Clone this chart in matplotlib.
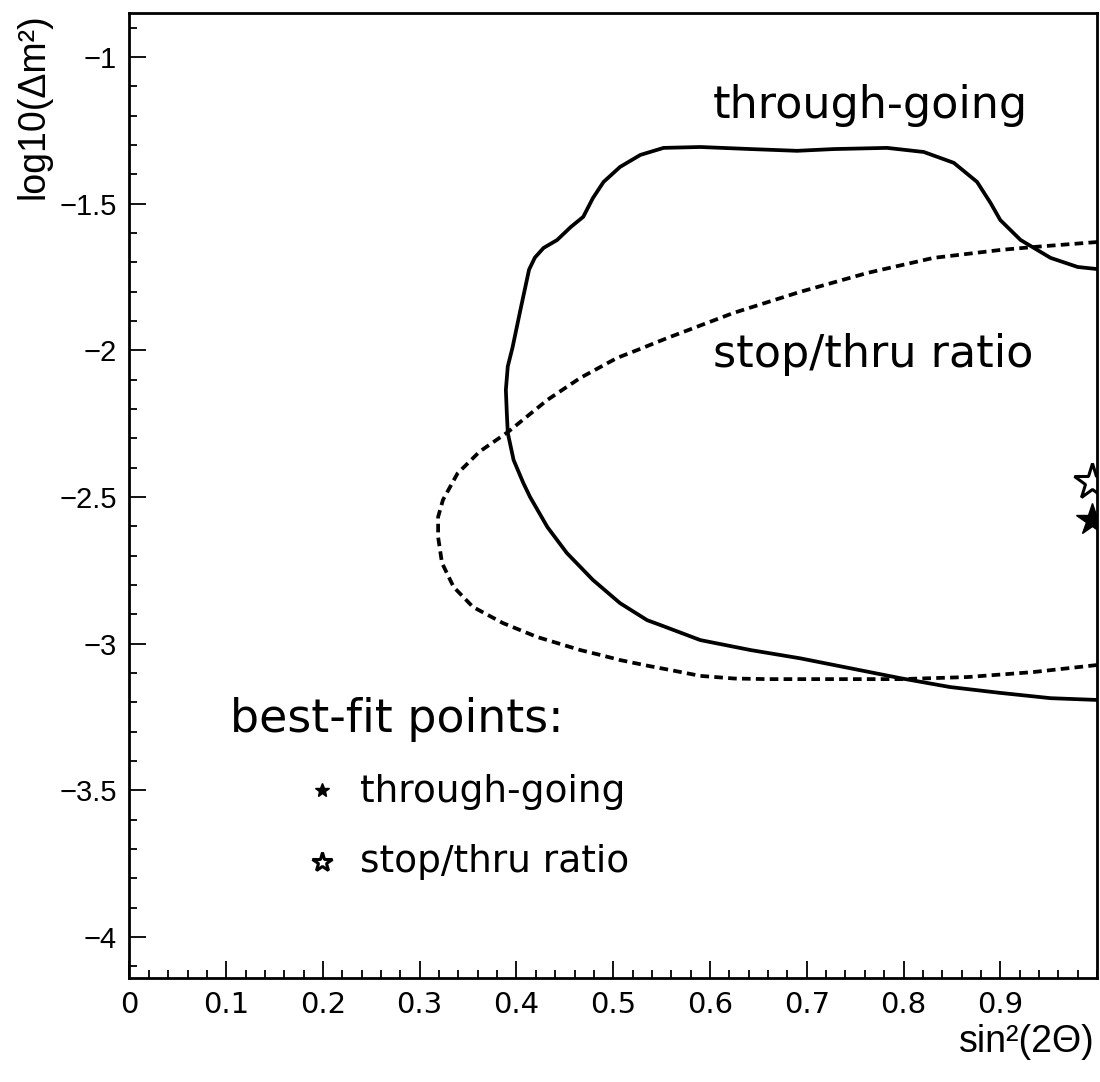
import matplotlib.pyplot as plt
from matplotlib.ticker import MultipleLocator, FuncFormatter

# --------------------------
# contour data (sin^2(2theta), log10(dm^2))
# --------------------------
thru_x = [1.000, 0.980, 0.952, 0.921, 0.900, 0.890, 0.876, 0.852, 0.821, 0.783,
          0.728, 0.690, 0.642, 0.590, 0.552, 0.528, 0.507, 0.490, 0.479, 0.469,
          0.456, 0.442, 0.428, 0.419, 0.413, 0.404, 0.396, 0.391, 0.389, 0.390,
          0.391, 0.397, 0.407, 0.414, 0.432, 0.452, 0.479, 0.507, 0.535, 0.549, 0.590,
          0.642, 0.693, 0.745, 0.797, 0.848, 0.900, 0.952, 1.000]
thru_y = [-1.723, -1.716, -1.685, -1.624, -1.556, -1.498, -1.426, -1.361, -1.324, -1.310,
          -1.314, -1.320, -1.314, -1.307, -1.310, -1.334, -1.375, -1.426, -1.481, -1.545,
          -1.580, -1.624, -1.651, -1.684, -1.725, -1.863, -1.989, -2.055, -2.135, -2.214,
          -2.282, -2.374, -2.452, -2.500, -2.603, -2.691, -2.783, -2.862, -2.920, -2.937, -2.988,
          -3.022, -3.050, -3.084, -3.118, -3.148, -3.168, -3.186, -3.192]

ratio_x = [1.000, 0.934, 0.900, 0.831, 0.763, 0.693, 0.624, 0.556, 0.525, 0.504,
           0.466, 0.432, 0.391, 0.362, 0.339, 0.324, 0.319, 0.319, 0.323, 0.335,
           0.355, 0.386, 0.421, 0.466, 0.487, 0.507, 0.538, 0.559, 0.590, 0.625,
           0.659, 0.728, 0.797, 0.866, 0.934, 1.000]
ratio_y = [-1.631, -1.648, -1.658, -1.685, -1.736, -1.801, -1.873, -1.958, -1.999, -2.026,
           -2.094, -2.169, -2.279, -2.345, -2.420, -2.510, -2.568, -2.637, -2.725, -2.807,
           -2.875, -2.930, -2.977, -3.022, -3.039, -3.056, -3.077, -3.090, -3.110, -3.119,
           -3.121, -3.121, -3.121, -3.114, -3.097, -3.073]

# best-fit points
best_thru = (0.995, -2.579)
best_ratio = (0.995, -2.449)

xtick_vals = [0, 0.1, 0.2, 0.3, 0.4, 0.5, 0.6, 0.7, 0.8, 0.9]

# --------------------------
# figure
# --------------------------
fig = plt.figure(figsize=(11, 10.82), dpi=100)
ax = fig.add_axes([0.1177, 0.0961, 0.8796, 0.8922])

ax.plot(thru_x, thru_y, color='black', lw=2.7, solid_joinstyle='round')
ax.plot(ratio_x, ratio_y, color='black', lw=2.7, linestyle=(0, (2.3, 1.4)))

ax.plot(*best_ratio, marker='*', ms=27, mfc='white', mec='black', mew=2.2)
ax.plot(*best_thru, marker='*', ms=24, mfc='black', mec='black')

ax.set_xlim(0, 1.0)
ax.set_ylim(-4.14, -0.849)

ax.xaxis.set_minor_locator(MultipleLocator(0.02))
ax.yaxis.set_major_locator(MultipleLocator(0.5))
ax.yaxis.set_minor_locator(MultipleLocator(0.1))
ax.set_xticks(xtick_vals)
ax.set_xticklabels([f'{v:g}' for v in xtick_vals])
ax.yaxis.set_major_formatter(FuncFormatter(lambda v, p: f'{v:g}'.replace('-', '\u2212')))
ax.tick_params(which='both', direction='in', top=False, right=False, width=1.3)
ax.tick_params(which='major', length=12, pad=9, labelsize=21)
ax.tick_params(which='minor', length=6)
for lab in ax.get_yticklabels():
    lab.set_family('Liberation Sans')
for s in ax.spines.values():
    s.set_linewidth(2)

# texts
big = dict(fontsize=32, family='DejaVu Sans', va='center', ha='left')
ax.text(0.603, -1.164, 'through-going', **big)
ax.text(0.603, -2.013, 'stop/thru ratio', **big)
ax.text(0.104, -3.26, 'best-fit points:', fontsize=33, family='DejaVu Sans', va='center')

# little legend
ax.plot(0.199, -3.499, marker='*', ms=10, color='black')
ax.plot(0.199, -3.745, marker='*', ms=15, mfc='white', mec='black', mew=2.2)
ax.text(0.238, -3.505, 'through-going', fontsize=27, family='DejaVu Sans', va='center')
ax.text(0.238, -3.745, 'stop/thru ratio', fontsize=27, family='DejaVu Sans', va='center')

fig.text(34 / 1100, 1 - 13 / 1082, 'log10(Δm²)', rotation=90, ha='center', va='top',
         fontsize=27, family='Liberation Sans')
fig.text(1095 / 1100, 1 - 1042 / 1082, 'sin²(2Θ)', ha='right', va='center',
         fontsize=27, family='Liberation Sans')

fig.savefig('out.png', dpi=100)
